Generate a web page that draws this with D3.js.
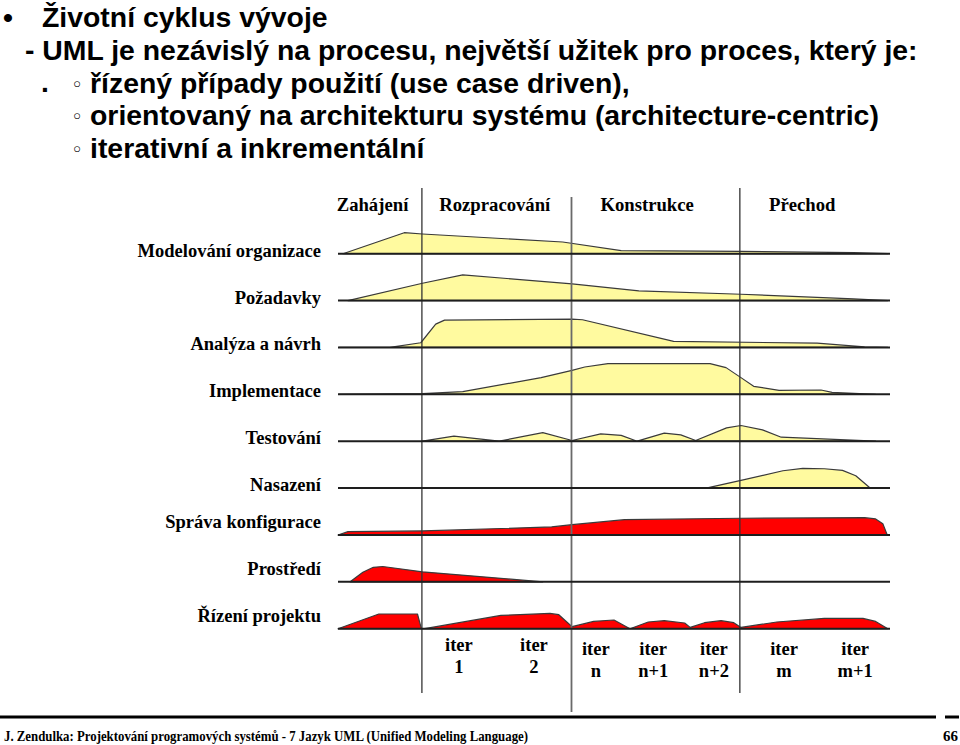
<!DOCTYPE html>
<html><head><meta charset="utf-8">
<script src="https://cdn.jsdelivr.net/npm/d3@7"></script>
<style>body{margin:0;background:#fff}svg{display:block}</style>
</head><body>
<svg id="c" width="960" height="745"></svg>
<script>
// ---- data ----
const headerLines = [
  "Životní cyklus vývoje",
  "- UML je nezávislý na procesu, největší užitek pro proces, který je:",
  "řízený případy použití (use case driven),",
  "orientovaný na architekturu systému (architecture-centric)",
  "iterativní a inkrementální"
];
const phaseNames = ["Zahájení", "Rozpracování", "Konstrukce", "Přechod"];
const phaseBounds = [0, 15.2, 42.3, 72.8, 100];
const phaseLabelAt = [6.25, 28.4, 56, 84.1];

const workflows = ["Modelování organizace", "Požadavky", "Analýza a návrh", "Implementace",
  "Testování", "Nasazení", "Správa konfigurace", "Prostředí", "Řízení projektu"];
const supportingWorkflows = ["Správa konfigurace", "Prostředí", "Řízení projektu"];

// [time, effort]
const effortModelovani = [[0.9,0],[12.0,21],[15.3,19.7],[40.7,11.7],[51.3,3],[73.0,2.3],[93.4,1],[99.6,0]];
const effortPozadavky = [[1.8,0],[15.3,17.3],[22.6,25.7],[42.4,16.7],[54.5,9.7],[73.0,6.3],[93.4,1.7],[99.6,0]];
const effortAnalyza = [[0.2,0],[9.4,0],[15.0,4.7],[17.7,23.3],[19.3,27.3],[42.4,28.3],[44.3,27.7],[60.8,6],[86.8,4.3],[95.4,0.5],[99.6,0]];
const effortImplementace = [[0.2,0],[15.3,0.7],[22.6,2.7],[36.8,16.7],[42.4,24],[44.7,27.3],[48.9,30.7],[67.4,30.7],[70.3,26.7],[73.0,16.7],[75.3,8],[79.9,4],[87.5,4.3],[89.5,2],[97.4,0]];
const effortTestovani = [[15.3,0],[21.0,5],[29.2,0],[37.1,8.5],[42.4,0.7],[47.6,7.3],[51.3,5.8],[54.2,0],[59.1,8],[62.1,6.3],[64.8,0.7],[70.4,13.3],[73.0,15.7],[76.9,11.3],[80.3,4],[97.4,0]];
const effortNasazeni = [[66.7,0],[73.0,7.7],[80.6,17.3],[84.2,19.7],[88.1,19.3],[91.4,17.7],[93.8,12.3],[96.4,0]];
const effortSprava = [[0,0],[1.8,3.3],[15.3,4],[38.7,8],[42.4,10.3],[51.9,15.3],[73.0,16.7],[95.4,17.3],[97.4,16],[98.7,11.3],[99.5,0]];
const effortProstredi = [[2.2,0],[4.5,9.5],[6.4,14.5],[8.1,15.3],[15.3,10],[37.1,0]];
const effortRizeni = [[0,0],[7.4,14.7],[14.4,14.7],[15.1,0],[15.7,0],[29.5,13.3],[38.4,15.3],[40.0,14],[42.4,2],[46.3,7.3],[50.0,8.7],[52.9,0],[56.2,6.7],[59.1,8],[62.8,5.7],[63.8,1.3],[66.4,6],[69.4,8],[71.7,6],[73.0,1.3],[79.5,6.7],[88.1,10.3],[95.1,10.3],[97.4,7.3],[99.6,0]];
const effortByWorkflow = [effortModelovani, effortPozadavky, effortAnalyza, effortImplementace,
  effortTestovani, effortNasazeni, effortSprava, effortProstredi, effortRizeni];

const iterTop = ["iter","iter","iter","iter","iter","iter","iter"];
const iterBottom = ["1","2","n","n+1","n+2","m","m+1"];
const iterAt = [21.9, 35.5, 46.7, 57.1, 68.1, 80.8, 93.7];

const footerText = "J. Zendulka: Projektování programových systémů - 7 Jazyk UML (Unified Modeling Language)";
const pageNumber = "66";

// ---- drawing ----
const svg = d3.select("#c");
const SANS = "'Liberation Sans', Arial, Helvetica, sans-serif";
const SERIF = "'Liberation Serif', 'Times New Roman', serif";

const x = d3.scaleLinear().domain([0, 100]).range([338, 890]);
const row = d3.scalePoint().domain(workflows).range([253.7, 628.7]);
const h = d3.scaleLinear().domain([0, 30]).range([0, 30]);

// header
const hdr = svg.append("g").attr("font-family", SANS).attr("font-weight", "bold").attr("font-size", 28.4).attr("fill", "#000");
hdr.append("text").attr("x", 3).attr("y", 27).text("•");
hdr.append("text").attr("x", 42).attr("y", 27).text(headerLines[0]);
hdr.append("text").attr("x", 25).attr("y", 60).text(headerLines[1]);
hdr.append("text").attr("x", 41).attr("y", 92).text(".");
[2,3,4].forEach((k, i) => {
  const yy = 92.5 + i * 32.5;
  hdr.append("text").attr("x", 71).attr("y", yy - 1).attr("font-size", 21).attr("font-weight", "normal").attr("font-family", "DejaVu Sans").text("◦");
  hdr.append("text").attr("x", 90).attr("y", yy).text(headerLines[k]);
});

// phase labels
svg.append("g").selectAll("text").data(phaseNames).join("text")
  .attr("x", (d, i) => x(phaseLabelAt[i])).attr("y", 211)
  .attr("text-anchor", "middle").attr("font-family", SERIF).attr("font-weight", "bold")
  .attr("font-size", 18.7).text(d => d);

// row labels
svg.append("g").selectAll("text").data(workflows).join("text")
  .attr("x", 321)
  .attr("y", d => row(d) + (supportingWorkflows.includes(d) ? -6.5 : 3))
  .attr("text-anchor", "end").attr("font-family", SERIF).attr("font-weight", "bold")
  .attr("font-size", 18.5).text(d => d);

// areas
const gA = svg.append("g");
workflows.forEach((w, i) => {
  const base = row(w);
  const area = d3.area().x(d => x(d[0])).y0(base).y1(d => base - h(d[1]));
  gA.append("path").datum(effortByWorkflow[i])
    .attr("d", area)
    .attr("fill", supportingWorkflows.includes(w) ? "#ff0000" : "#fffa9f")
    .attr("stroke", "#3a3a3a").attr("stroke-width", 1.2).attr("stroke-linejoin", "round");
});

// phase separators
const seps = phaseBounds.slice(1, -1);
svg.append("g").selectAll("line").data(seps).join("line")
  .attr("x1", d => x(d)).attr("x2", d => x(d))
  .attr("y1", (d, i) => i === 1 ? 197 : 188)
  .attr("y2", (d, i) => i === 1 ? 712 : 693)
  .attr("stroke", (d, i) => i === 1 ? "#6a6a6a" : "#333").attr("stroke-width", (d, i) => i === 1 ? 1.8 : 1.3);

// baselines
svg.append("g").selectAll("line").data(workflows).join("line")
  .attr("x1", x(0)).attr("x2", x(100))
  .attr("y1", d => row(d)).attr("y2", d => row(d))
  .attr("stroke", "#1e1e1e").attr("stroke-width", 2);

// iterations
const gi = svg.append("g").attr("font-family", SERIF).attr("font-weight", "bold").attr("font-size", 18.5).attr("text-anchor", "middle");
iterAt.forEach((t, i) => {
  const inElab = t < phaseBounds[2];
  const y0 = inElab ? 651 : 655;
  gi.append("text").attr("x", x(t)).attr("y", y0).text(iterTop[i]);
  gi.append("text").attr("x", x(t)).attr("y", y0 + 22).text(iterBottom[i]);
});

// footer
svg.append("line").attr("x1", 0).attr("x2", 936).attr("y1", 717).attr("y2", 717).attr("stroke", "#000").attr("stroke-width", 3);
svg.append("line").attr("x1", 945).attr("x2", 959).attr("y1", 717).attr("y2", 717).attr("stroke", "#000").attr("stroke-width", 3);
svg.append("text").attr("x", 4).attr("y", 741).attr("font-family", SERIF).attr("font-weight", "bold")
  .attr("font-size", 14.5).attr("textLength", 524).attr("lengthAdjust", "spacingAndGlyphs").text(footerText);
svg.append("text").attr("x", 958).attr("y", 741).attr("text-anchor", "end").attr("font-family", SERIF).attr("font-weight", "bold")
  .attr("font-size", 15).text(pageNumber);
</script>
</body></html>
